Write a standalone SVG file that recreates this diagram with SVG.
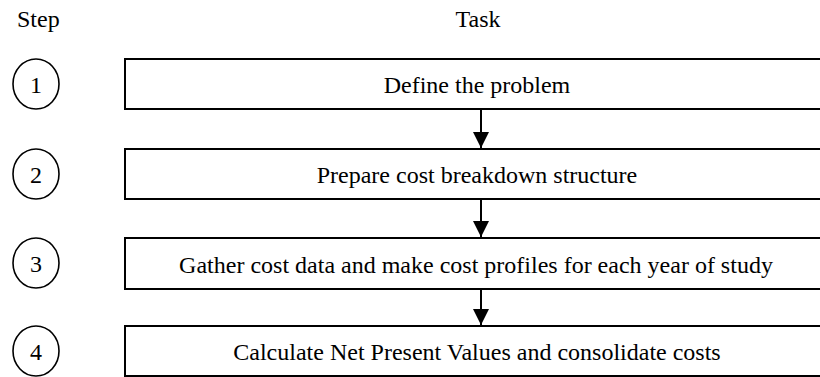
<svg xmlns="http://www.w3.org/2000/svg" width="820" height="377" viewBox="0 0 820 377">
<defs>
<style>
text{font-family:"Liberation Serif","Times New Roman",serif;font-size:24px;fill:#000}
.box{fill:#fff;stroke:#000;stroke-width:2}
.circ{fill:#fff;stroke:#000;stroke-width:1.6}
.conn{stroke:#000;stroke-width:2;fill:none}
.c{text-anchor:middle}
</style>
<marker id="ah" markerWidth="16" markerHeight="16" viewBox="0 0 16 16" refX="16" refY="8" orient="auto" markerUnits="userSpaceOnUse">
<path d="M0,0 L16,8 L0,16 Z" fill="#000"/>
</marker>
</defs>
<text x="17" y="27">Step</text>
<text x="478" y="27" class="c">Task</text>
<g id="step1">
<ellipse class="circ" cx="36" cy="84" rx="23" ry="25"/>
<text x="36" y="93" class="c">1</text>
<rect class="box" x="125" y="59" width="700" height="50"/>
<text x="477" y="93" class="c">Define the problem</text>
</g>
<g id="step2">
<ellipse class="circ" cx="36" cy="174" rx="23" ry="25"/>
<text x="36" y="183" class="c">2</text>
<rect class="box" x="125" y="149" width="700" height="50"/>
<text x="477" y="183" class="c">Prepare cost breakdown structure</text>
</g>
<g id="step3">
<ellipse class="circ" cx="36" cy="263" rx="23" ry="25"/>
<text x="36" y="272" class="c">3</text>
<rect class="box" x="125" y="238" width="700" height="51"/>
<text x="476" y="272.5" class="c">Gather cost data and make cost profiles for each year of study</text>
</g>
<g id="step4">
<ellipse class="circ" cx="36" cy="351" rx="23" ry="25"/>
<text x="36" y="360" class="c">4</text>
<rect class="box" x="125" y="326" width="700" height="50"/>
<text x="477" y="360" class="c">Calculate Net Present Values and consolidate costs</text>
</g>
<g id="connectors">
<line class="conn" x1="481" y1="110" x2="481" y2="148" marker-end="url(#ah)"/>
<line class="conn" x1="481" y1="200" x2="481" y2="237" marker-end="url(#ah)"/>
<line class="conn" x1="481" y1="290" x2="481" y2="325" marker-end="url(#ah)"/>
</g>
</svg>
